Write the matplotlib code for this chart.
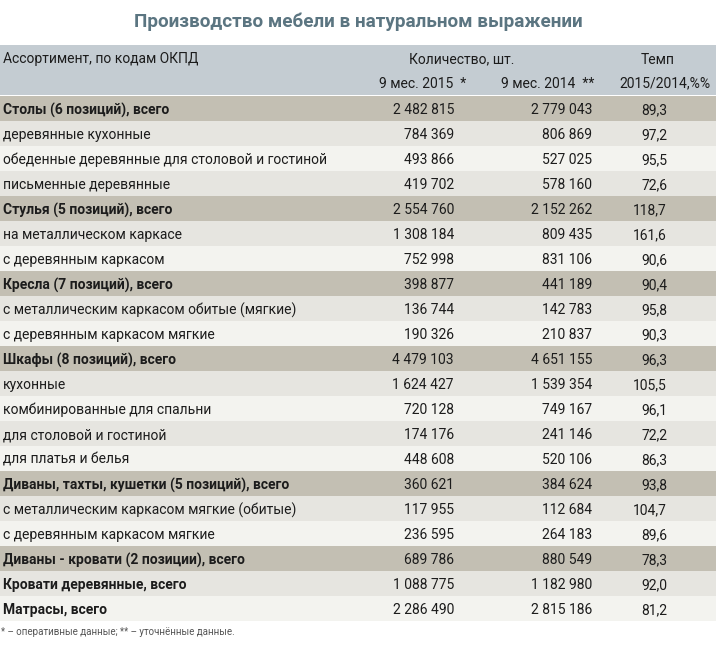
import matplotlib
matplotlib.use("Agg")
import matplotlib.pyplot as plt

# Table content
TITLE = "Производство мебели в натуральном выражении"
HEAD_COL1 = "Ассортимент, по кодам ОКПД"
HEAD_QTY = "Количество, шт."
HEAD_2015 = "9 мес. 2015  *"
HEAD_2014 = "9 мес. 2014  **"
HEAD_RATE = "Темп"
HEAD_RATE2 = "2015/2014,%%"
FOOTNOTE = "* – оперативные данные; ** – уточнённые данные."

labels = [
    "Столы (6 позиций), всего",
    "деревянные кухонные",
    "обеденные деревянные для столовой и гостиной",
    "письменные деревянные",
    "Стулья (5 позиций), всего",
    "на металлическом каркасе",
    "с деревянным каркасом",
    "Кресла (7 позиций), всего",
    "с металлическим каркасом обитые (мягкие)",
    "с деревянным каркасом мягкие",
    "Шкафы (8 позиций), всего",
    "кухонные",
    "комбинированные для спальни",
    "для столовой и гостиной",
    "для платья и белья",
    "Диваны, тахты, кушетки (5 позиций), всего",
    "с металлическим каркасом мягкие (обитые)",
    "с деревянным каркасом мягкие",
    "Диваны - кровати (2 позиции), всего",
    "Кровати деревянные, всего",
    "Матрасы, всего",
]
qty_2015 = [2482815, 784369, 493866, 419702, 2554760, 1308184, 752998,
            398877, 136744, 190326, 4479103, 1624427, 720128, 174176,
            448608, 360621, 117955, 236595, 689786, 1088775, 2286490]
qty_2014 = [2779043, 806869, 527025, 578160, 2152262, 809435, 831106,
            441189, 142783, 210837, 4651155, 1539354, 749167, 241146,
            520106, 384624, 112684, 264183, 880549, 1182980, 2815186]
growth = [89.3, 97.2, 95.5, 72.6, 118.7, 161.6, 90.6, 90.4, 95.8, 90.3,
          96.3, 105.5, 96.1, 72.2, 86.3, 93.8, 104.7, 89.6, 78.3, 92.0, 81.2]
# "group" = beige total row, "total" = bold row without band, "item" = plain
row_kind = ["group", "item", "item", "item", "group", "item", "item",
            "group", "item", "item", "group", "item", "item", "item", "item",
            "group", "item", "item", "group", "total", "total"]

# Styling
W, H = 716, 660
HEADER_BG = "#c4ccd2"
GROUP_BG = "#c3bfb3"
ROW_DARK = "#e6e5e0"
ROW_LIGHT = "#f3f3ef"
TITLE_COLOR = "#5b7581"
TEXT = "#1c1c1c"
FONT = ["Roboto", "DejaVu Sans"]
FS = 10

ROW_TOP = 96
ROW_H = 25
X_LABEL = 3
X_2015 = 454
X_2014 = 592
X_RATE = 667
DY = 1.5  # nudge text down to sit like the reference


def fmt_int(v):
    return f"{v:,}".replace(",", " ")


def fmt_pct(v):
    return f"{v:.1f}".replace(".", ",")


plt.rcParams["font.family"] = FONT

fig = plt.figure(figsize=(W / 100, H / 100), dpi=100)
ax = fig.add_axes([0, 0, 1, 1])
ax.set_xlim(0, W)
ax.set_ylim(H, 0)
ax.axis("off")

# title
ax.text(W / 2, 22, TITLE, ha="center", va="center", fontsize=13.6,
        fontweight="bold", color=TITLE_COLOR)

# header band
ax.barh(70, W, height=50, left=0, color=HEADER_BG, linewidth=0)
ax.text(X_LABEL, 58 + DY, HEAD_COL1, ha="left", va="center", fontsize=FS, color=TEXT)
ax.text(462, 58 + DY, HEAD_QTY, ha="center", va="center", fontsize=FS, color=TEXT)
ax.text(658, 58 + DY, HEAD_RATE, ha="center", va="center", fontsize=FS, color=TEXT)
ax.text(466, 82 + DY, HEAD_2015, ha="right", va="center", fontsize=FS, color=TEXT)
ax.text(594, 82 + DY, HEAD_2014, ha="right", va="center", fontsize=FS, color=TEXT)
ax.text(710, 82 + DY, HEAD_RATE2, ha="right", va="center", fontsize=FS, color=TEXT)

# body rows
shade = 0
for i, label in enumerate(labels):
    yc = ROW_TOP + ROW_H * i + ROW_H / 2
    kind = row_kind[i]
    if kind == "group":
        bg = GROUP_BG
        shade = 0
    else:
        bg = ROW_DARK if shade % 2 == 0 else ROW_LIGHT
        shade += 1
    ax.barh(yc, W, height=ROW_H, left=0, color=bg, linewidth=0)

    ty = yc + DY
    weight = "bold" if kind in ("group", "total") else "normal"
    ax.text(X_LABEL, ty, label, ha="left", va="center", fontsize=FS,
            fontweight=weight, color=TEXT)
    ax.text(X_2015, ty, fmt_int(qty_2015[i]), ha="right", va="center",
            fontsize=FS, color=TEXT)
    ax.text(X_2014, ty, fmt_int(qty_2014[i]), ha="right", va="center",
            fontsize=FS, color=TEXT)
    ax.text(X_RATE, ty, fmt_pct(growth[i]), ha="right", va="center",
            fontsize=FS, color=TEXT)

# footnote
ax.text(1, 632, FOOTNOTE, ha="left", va="center", fontsize=7, color="#555555")

fig.savefig("out.png", dpi=100)
